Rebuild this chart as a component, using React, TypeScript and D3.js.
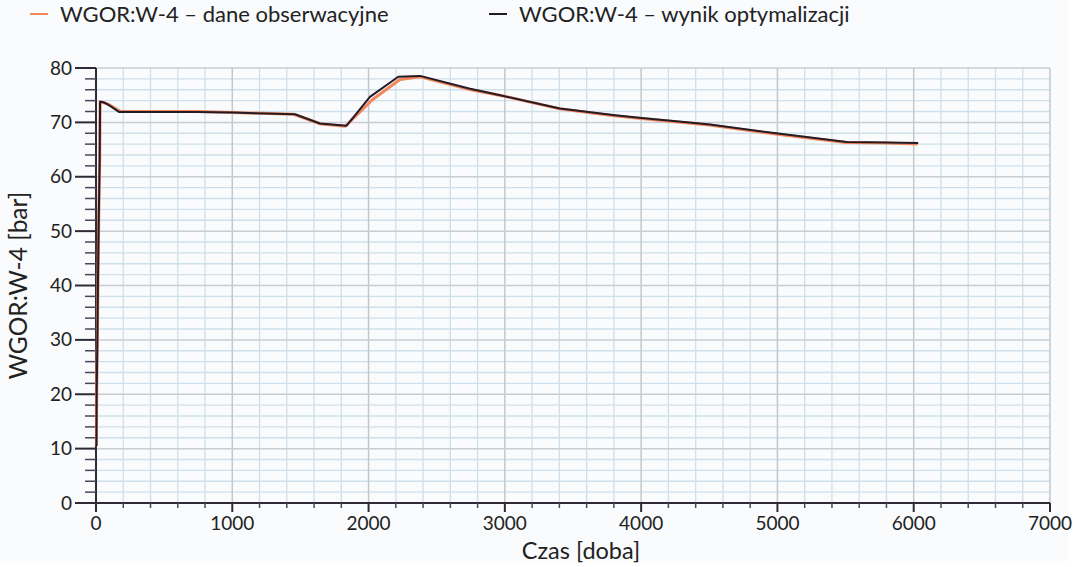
import * as d3 from "d3";

const W = 1077;
const H = 567;
const M = { top: 68, right: 27, bottom: 64, left: 96 };

// krzywa obserwowana (pomarańczowa)
const obsDays = [3, 5, 10, 15, 20, 27, 30, 60, 100, 180, 750, 1450, 1650, 1830, 2030, 2230, 2380, 2750, 3000, 3400, 3800, 4000, 4500, 5000, 5500, 5800, 6030];
const obsVals = [10.5, 20, 30, 42, 52, 63, 73.8, 73.6, 73.2, 72.0, 72.0, 71.5, 69.7, 69.3, 74.2, 77.9, 78.4, 76.0, 74.8, 72.5, 71.2, 70.7, 69.5, 67.8, 66.3, 66.2, 66.0];

// wynik optymalizacji (czarna)
const optDays = [3, 5, 10, 15, 20, 27, 30, 54, 80, 114, 171, 740, 1000, 1460, 1643, 1839, 2010, 2218, 2377, 2744, 2890, 2964, 3404, 3808, 4004, 4431, 4505, 5006, 5508, 5800, 6033];
const optVals = [10.5, 20, 30, 42, 52, 63, 73.8, 73.7, 73.4, 72.85, 71.9, 71.9, 71.8, 71.5, 69.8, 69.4, 74.7, 78.4, 78.55, 76.2, 75.4, 75.0, 72.55, 71.3, 70.8, 69.8, 69.6, 67.95, 66.4, 66.3, 66.2];

const xMajor = [0, 1000, 2000, 3000, 4000, 5000, 6000, 7000];
const yMajor = [0, 10, 20, 30, 40, 50, 60, 70, 80];

const SERIES = [
  { label: "WGOR:W-4 – dane obserwacyjne", color: "#f2875c", width: 3, days: obsDays, vals: obsVals },
  { label: "WGOR:W-4 – wynik optymalizacji", color: "#251b26", width: 2, days: optDays, vals: optVals },
];

const FONT = "Lato, 'Open Sans', sans-serif";
const AXIS = "#2f2a36";

export default function App() {
  const x = d3.scaleLinear().domain([0, 7000]).range([M.left, W - M.right]);
  const y = d3.scaleLinear().domain([0, 80]).range([H - M.bottom, M.top]);

  const xMinor = d3.range(0, 7001, 200).filter((v) => v % 1000 !== 0);
  const yMinor = d3.range(0, 81, 2).filter((v) => v % 10 !== 0);

  const line = d3
    .line<[number, number]>()
    .x((d) => x(d[0]))
    .y((d) => y(d[1]));

  const x0 = x(0);
  const x1 = x(7000);
  const y0 = y(0);
  const y1 = y(80);

  return (
    <div style={{ position: "absolute", left: 0, top: 0 }}>
      <svg width={W} height={H} style={{ display: "block", fontFamily: FONT }}>
        <rect width={W} height={H} fill="#ffffff" />
        <rect width={1068} height={561} fill="#f9fbfd" />

        {/* legenda */}
        {SERIES.map((s, i) => {
          const lx = i === 0 ? 30 : 489;
          return (
            <g key={s.label}>
              <line x1={lx} x2={lx + 18} y1={14} y2={14} stroke={s.color} strokeWidth={2} />
              <text x={lx + 30} y={21.5} fontSize={22} fill="#222">
                {s.label}
              </text>
            </g>
          );
        })}

        {/* siatka */}
        {xMinor.map((v) => (
          <line key={`xm-${v}`} x1={x(v)} x2={x(v)} y1={y1} y2={y0} stroke="#cfe0ea" strokeWidth={1.3} />
        ))}
        {yMinor.map((v) => (
          <line key={`ym-${v}`} x1={x0} x2={x1} y1={y(v)} y2={y(v)} stroke="#cfe0ea" strokeWidth={1.3} />
        ))}
        {xMajor.map((v) => (
          <line key={`xg-${v}`} x1={x(v)} x2={x(v)} y1={y1} y2={y0} stroke="#c3c8cd" strokeWidth={1.5} />
        ))}
        {yMajor.map((v) => (
          <line key={`yg-${v}`} x1={x0} x2={x1} y1={y(v)} y2={y(v)} stroke="#c9cdd1" strokeWidth={1.5} />
        ))}

        {/* osie */}
        <line x1={x0} x2={x0} y1={y1} y2={y0} stroke={AXIS} strokeWidth={2} />
        <line x1={x0 - 21} x2={x1} y1={y0} y2={y0} stroke={AXIS} strokeWidth={2} />

        {yMajor.map((v) => (
          <g key={`yt-${v}`}>
            <line x1={x0 - 21} x2={x0} y1={y(v)} y2={y(v)} stroke={AXIS} strokeWidth={2} />
            <text x={x0 - 24} y={y(v) + 6.5} textAnchor="end" fontSize={19} fill="#222">
              {v}
            </text>
          </g>
        ))}
        {yMinor.map((v) => (
          <line key={`ymt-${v}`} x1={x0 - 11} x2={x0} y1={y(v)} y2={y(v)} stroke="#4a4558" strokeWidth={1.5} />
        ))}

        {xMajor.map((v) => (
          <g key={`xt-${v}`}>
            <line x1={x(v)} x2={x(v)} y1={y0} y2={y0 + 9} stroke={AXIS} strokeWidth={2} />
            <text x={x(v)} y={y0 + 27} textAnchor="middle" fontSize={19} fill="#222">
              {v}
            </text>
          </g>
        ))}
        {xMinor.map((v) => (
          <line key={`xmt-${v}`} x1={x(v)} x2={x(v)} y1={y0} y2={y0 + 5} stroke="#4a4558" strokeWidth={1.5} />
        ))}

        <text x={581} y={H - 8} textAnchor="middle" fontSize={23.5} fill="#222">
          Czas [doba]
        </text>
        <text
          transform={`translate(27 ${(y0 + y1) / 2}) rotate(-90)`}
          textAnchor="middle"
          fontSize={24.5}
          fill="#222"
        >
          WGOR:W-4 [bar]
        </text>

        {/* serie */}
        {SERIES.map((s) => (
          <path
            key={s.label}
            d={line(s.days.map((d, i) => [d, s.vals[i]] as [number, number])) || ""}
            fill="none"
            stroke={s.color}
            strokeWidth={s.width}
            strokeLinejoin="round"
          />
        ))}
      </svg>
    </div>
  );
}
